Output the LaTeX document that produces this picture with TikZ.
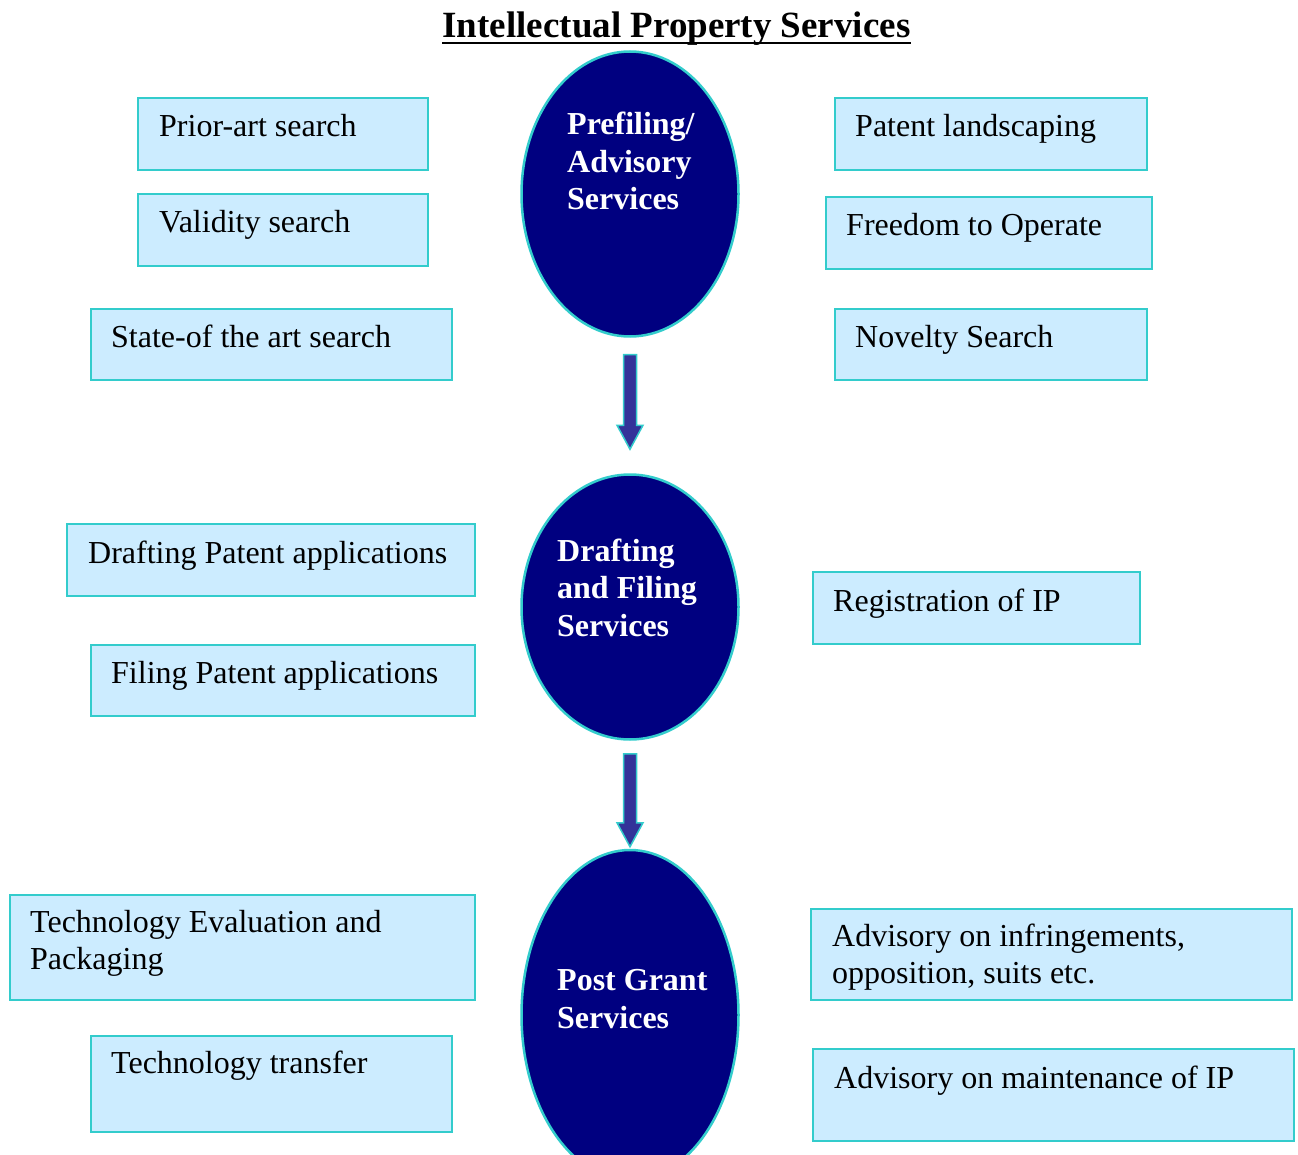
\documentclass[tikz,border=0pt]{standalone}
\usepackage{fontspec}
\setmainfont{Liberation Serif}
\usetikzlibrary{%
  positioning
 ,calc
 ,shapes.geometric
}
\definecolor{boxfill}{RGB}{204,236,255}
\definecolor{boxline}{RGB}{51,204,204}
\definecolor{ovalfill}{RGB}{0,0,128}
\definecolor{arrowfill}{RGB}{51,51,153}
\tikzstyle{box}=[draw=boxline,fill=boxfill,line width=2pt,anchor=north west,inner sep=0pt]
\tikzstyle{txt}=[anchor=base west,inner sep=0pt,align=left,font=\fontsize{32}{37}\selectfont]
\tikzstyle{oval}=[ellipse,draw=boxline,fill=ovalfill,line width=2.5pt,minimum width=217pt,inner sep=0pt]
\tikzstyle{blk}=[draw=boxline,fill=arrowfill,line width=1.5pt,line join=miter]

\begin{document}
\begin{tikzpicture}[x=1pt,y=-1pt]
\tikzstyle{otxt} = [txt,text=white,font=\fontsize{32}{37.5}\selectfont\bfseries]
\useasboundingbox (0,0) rectangle (1298,1155);
\clip (0,0) rectangle (1298,1155);
% title
\node[inner sep=0pt,anchor=base,font=\fontsize{37}{40}\selectfont\bfseries](title)at(676.5,38){Intellectual Property Services};
\draw[line width=2.5pt] ([yshift=-5pt]title.base west) -- ([yshift=-5pt]title.base east);
% the three stages (text nodes sit on the baseline of their last line)
\node[oval,minimum height=285pt](e1)at(630,194){};
\node[oval,minimum height=265pt](e2)at(630,607){};
\node[oval,minimum height=330pt](e3)at(630,1015){};
\node[otxt](e1t)at(567,210){Prefiling/\\Advisory\\Services};
\node[otxt](e2t)at(557,636){Drafting\\and Filing\\Services};
\node[otxt](e3t)at(557,1028){Post Grant\\Services};
% block arrows
\draw[blk] ($(e1.south)+(-6.5,17)$) -- ($(e1.south)+(6.5,17)$) -- ($(e2.north)+(6.5,-48)$)
  -- ($(e2.north)+(13,-48)$) -- ($(e2.north)+(0,-24)$) -- ($(e2.north)+(-13,-48)$)
  -- ($(e2.north)+(-6.5,-48)$) -- cycle;
\draw[blk] ($(e2.south)+(-6.5,13)$) -- ($(e2.south)+(6.5,13)$) -- ($(e3.north)+(6.5,-26)$)
  -- ($(e3.north)+(13,-26)$) -- ($(e3.north)+(0,-2)$) -- ($(e3.north)+(-13,-26)$)
  -- ($(e3.north)+(-6.5,-26)$) -- cycle;
% left boxes
\node[box,minimum width=290pt,minimum height=72pt](prior)at(137,97){};
\node[box,minimum width=290pt,minimum height=72pt](valid)at(137,193){};
\node[box,minimum width=361pt,minimum height=71pt](stateart)at(90,308){};
\node[box,minimum width=408pt,minimum height=72pt](draft)at(66,523){};
\node[box,minimum width=384pt,minimum height=71pt](filing)at(90,644){};
\node[box,minimum width=465pt,minimum height=105pt](techeval)at(9,894){};
\node[box,minimum width=361pt,minimum height=96pt](techtr)at(90,1035){};
% right boxes
\node[box,minimum width=312pt,minimum height=72pt](landsc)at(834,97){};
\node[box,minimum width=326pt,minimum height=72pt](fto)at(825,196){};
\node[box,minimum width=312pt,minimum height=71pt](novelty)at(834,308){};
\node[box,minimum width=327pt,minimum height=72pt](regip)at(812,571){};
\node[box,minimum width=481pt,minimum height=91pt](infr)at(810,908){};
\node[box,minimum width=481pt,minimum height=92pt](maint)at(812,1048){};
% box texts
\node[txt](priort)at([shift={(22,40)}]prior.north west){Prior-art search};
\node[txt](validt)at([shift={(22,40)}]valid.north west){Validity search};
\node[txt](stateartt)at([shift={(21,40)}]stateart.north west){State-of the art search};
\node[txt](draftt)at([shift={(22,40)}]draft.north west){Drafting Patent applications};
\node[txt](filingt)at([shift={(21,39)}]filing.north west){Filing Patent applications};
\node[txt](techevalt)at([shift={(21,75)}]techeval.north west){Technology Evaluation and\\Packaging};
\node[txt](techtrt)at([shift={(21,38)}]techtr.north west){Technology transfer};
\node[txt](landsct)at([shift={(21,40)}]landsc.north west){Patent landscaping};
\node[txt](ftot)at([shift={(21,40)}]fto.north west){Freedom to Operate};
\node[txt](noveltyt)at([shift={(21,40)}]novelty.north west){Novelty Search};
\node[txt](regipt)at([shift={(21,40)}]regip.north west){Registration of IP};
\node[txt](infrt)at([shift={(22,75)}]infr.north west){Advisory on infringements,\\opposition, suits etc.};
\node[txt](maintt)at([shift={(22,40)}]maint.north west){Advisory on maintenance of IP};
\end{tikzpicture}
\end{document}
